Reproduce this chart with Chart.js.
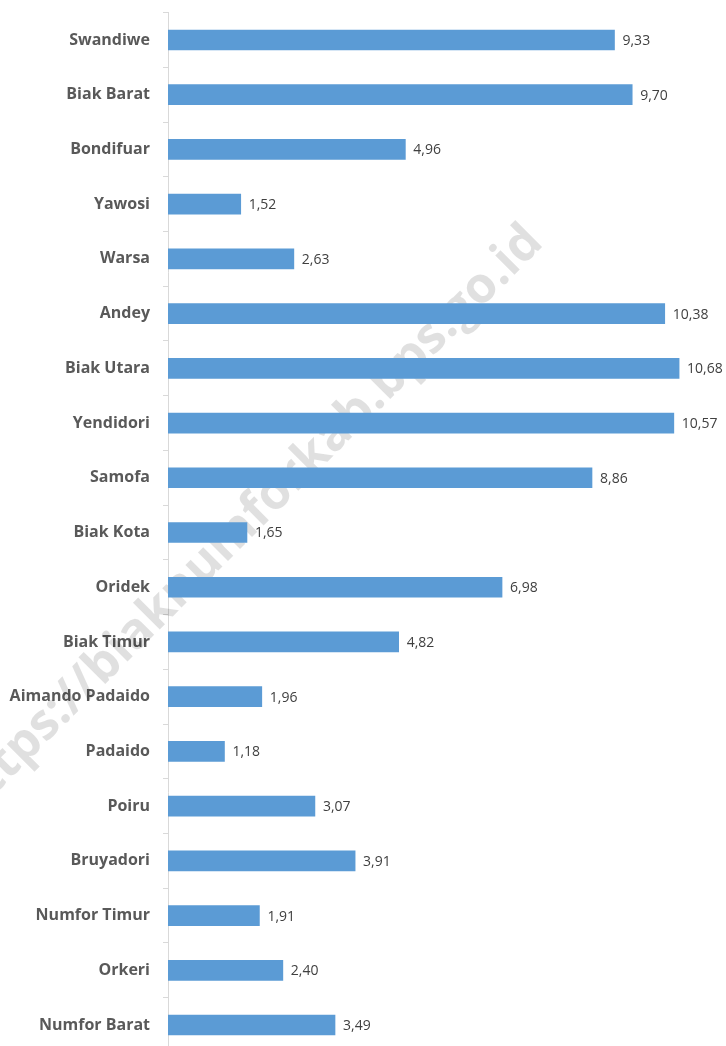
<!DOCTYPE html>
<html>
<head>
<meta charset="utf-8">
<script src="https://cdn.jsdelivr.net/npm/chart.js@4"></script>
<style>
  html, body { margin: 0; padding: 0; background: #fff; overflow: hidden; }
  #wrap { position: absolute; left: 0; top: -10px; width: 726px; height: 1085px; }
</style>
</head>
<body>
<div id="wrap"><canvas id="grafico"></canvas></div>
<script>
// Distritos (de cima para baixo) e valores
const distritos = ['Swandiwe', 'Biak Barat', 'Bondifuar', 'Yawosi', 'Warsa', 'Andey', 'Biak Utara',
  'Yendidori', 'Samofa', 'Biak Kota', 'Oridek', 'Biak Timur', 'Aimando Padaido', 'Padaido',
  'Poiru', 'Bruyadori', 'Numfor Timur', 'Orkeri', 'Numfor Barat'];
const valores = [9.33, 9.70, 4.96, 1.52, 2.63, 10.38, 10.68, 10.57, 8.86, 1.65, 6.98, 4.82,
  1.96, 1.18, 3.07, 3.91, 1.91, 2.40, 3.49];
const marcaDagua = 'https://biaknumforkab.bps.go.id';

// Marca d'água atrás das barras (coordenadas da página; o canvas começa 10px acima)
const pluginMarca = {
  id: 'marca',
  beforeDatasetsDraw(chart) {
    const ctx = chart.ctx;
    ctx.save();
    ctx.translate(247, 532);
    ctx.rotate(-Math.PI / 4);
    ctx.font = 'bold 50px "Open Sans"';
    ctx.fillStyle = 'rgba(0,0,0,0.12)';
    ctx.textAlign = 'center';
    ctx.textBaseline = 'middle';
    ctx.fillText(marcaDagua, 0, 0);
    ctx.restore();
  }
};

// Rótulos de valor no fim de cada barra
const pluginValores = {
  id: 'valores',
  afterDatasetsDraw(chart) {
    const ctx = chart.ctx;
    const meta = chart.getDatasetMeta(0);
    ctx.save();
    ctx.font = '14px "Open Sans"';
    ctx.fillStyle = '#404040';
    ctx.textAlign = 'left';
    ctx.textBaseline = 'middle';
    meta.data.forEach((bar, i) => {
      ctx.fillText(valores[i].toFixed(2).replace('.', ','), bar.x + 8, bar.y + 1);
    });
    ctx.restore();
  }
};

new Chart(document.getElementById('grafico'), {
  type: 'bar',
  data: {
    labels: distritos,
    datasets: [{
      data: valores,
      backgroundColor: '#5b9bd5',
      barThickness: 20
    }]
  },
  options: {
    indexAxis: 'y',
    responsive: true,
    maintainAspectRatio: false,
    animation: false,
    layout: { padding: { top: 2, bottom: 1, right: 0, left: 0 } },
    plugins: { legend: { display: false }, tooltip: { enabled: false } },
    scales: {
      x: { display: false, min: 0, max: 11.66 },
      y: {
        afterFit(scale) { scale.width = 168; },
        border: { color: '#d9d9d9', width: 1 },
        grid: { drawOnChartArea: false, tickLength: 5, color: '#d9d9d9', offset: true },
        ticks: {
          padding: 13,
          color: '#595959',
          font: { family: '"Open Sans"', size: 16, weight: 'bold' }
        }
      }
    }
  },
  plugins: [pluginMarca, pluginValores]
});
</script>
</body>
</html>
